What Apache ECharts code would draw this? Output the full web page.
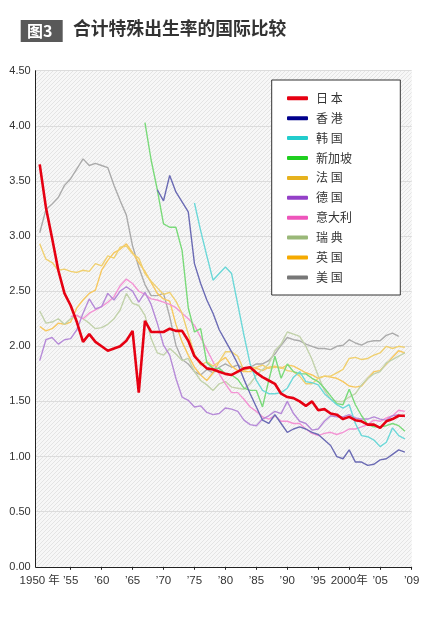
<!DOCTYPE html>
<html>
<head>
<meta charset="utf-8">
<script src="https://cdn.jsdelivr.net/npm/echarts@6/dist/echarts.min.js"></script>
<style>
html,body{margin:0;padding:0;background:#fff;}
#c{width:437px;height:620px;}
</style>
</head>
<body>
<div id="c"></div>
<script>
var years = [1950,1951,1952,1953,1954,1955,1956,1957,1958,1959,
             1960,1961,1962,1963,1964,1965,1966,1967,1968,1969,
             1970,1971,1972,1973,1974,1975,1976,1977,1978,1979,
             1980,1981,1982,1983,1984,1985,1986,1987,1988,1989,
             1990,1991,1992,1993,1994,1995,1996,1997,1998,1999,
             2000,2001,2002,2003,2004,2005,2006,2007,2008,2009];

var japan = [3.65,3.26,2.98,2.69,2.48,2.37,2.22,2.04,2.11,2.04,
             2.00,1.96,1.98,2.00,2.05,2.14,1.58,2.23,2.13,2.13,
             2.13,2.16,2.14,2.14,2.05,1.91,1.85,1.80,1.79,1.77,
             1.75,1.74,1.77,1.80,1.81,1.76,1.72,1.69,1.66,1.57,
             1.54,1.53,1.50,1.46,1.50,1.42,1.43,1.39,1.38,1.34,
             1.36,1.33,1.32,1.29,1.29,1.26,1.32,1.34,1.37,1.37];

var hongkong = [null,null,null,null,null,null,null,null,null,null,
             null,null,null,null,null,null,null,null,null,3.42,
             3.32,3.55,3.40,3.31,3.22,2.75,2.57,2.42,2.30,2.15,
             2.05,1.95,1.84,1.70,1.57,1.45,1.33,1.30,1.38,1.30,
             1.22,1.25,1.27,1.25,1.22,1.20,1.15,1.10,1.00,0.98,
             1.06,0.95,0.95,0.92,0.93,0.97,0.98,1.02,1.06,1.04];

var korea = [null,null,null,null,null,null,null,null,null,null,
             null,null,null,null,null,null,null,null,null,null,
             null,null,null,null,null,3.30,3.05,2.82,2.60,2.66,
             2.72,2.66,2.38,2.10,1.84,1.69,1.60,1.57,1.57,1.58,
             1.62,1.72,1.77,1.68,1.67,1.65,1.57,1.52,1.47,1.44,
             1.47,1.30,1.19,1.18,1.15,1.09,1.13,1.26,1.19,1.16];

var singapore = [null,null,null,null,null,null,null,null,null,null,
             null,null,null,null,null,null,null,4.03,3.69,3.42,
             3.11,3.08,3.08,2.87,2.35,2.13,2.16,1.85,1.80,1.80,
             1.75,1.74,1.70,1.62,1.60,1.60,1.45,1.69,1.91,1.71,
             1.84,1.77,1.75,1.75,1.71,1.68,1.62,1.55,1.48,1.47,
             1.61,1.47,1.37,1.29,1.27,1.27,1.28,1.30,1.28,1.23];

var france = [2.93,2.79,2.76,2.69,2.70,2.68,2.67,2.69,2.68,2.75,
             2.73,2.82,2.80,2.90,2.91,2.84,2.80,2.66,2.59,2.53,
             2.47,2.49,2.41,2.30,2.11,1.93,1.83,1.86,1.82,1.86,
             1.95,1.95,1.91,1.78,1.80,1.81,1.83,1.80,1.81,1.81,
             1.78,1.77,1.73,1.66,1.66,1.71,1.73,1.73,1.76,1.79,
             1.89,1.90,1.88,1.89,1.92,1.94,2.00,1.98,2.00,1.99];

var germany = [1.87,2.06,2.08,2.02,2.06,2.07,2.15,2.30,2.43,2.34,
             2.36,2.48,2.42,2.50,2.54,2.50,2.40,2.49,2.38,2.21,
             2.01,1.92,1.71,1.54,1.51,1.45,1.46,1.40,1.38,1.39,
             1.44,1.43,1.41,1.33,1.29,1.28,1.34,1.37,1.41,1.39,
             1.50,1.39,1.32,1.30,1.24,1.25,1.32,1.37,1.36,1.36,
             1.38,1.35,1.34,1.34,1.36,1.34,1.33,1.37,1.38,1.36];

var italy = [null,null,null,null,null,2.27,2.28,2.25,2.30,2.33,
             2.36,2.40,2.45,2.55,2.61,2.57,2.50,2.47,2.43,2.42,
             2.40,2.38,2.35,2.30,2.25,2.19,2.08,1.97,1.86,1.75,
             1.66,1.58,1.58,1.52,1.45,1.41,1.36,1.34,1.37,1.32,
             1.32,1.30,1.30,1.25,1.21,1.19,1.21,1.22,1.20,1.22,
             1.25,1.25,1.27,1.29,1.33,1.32,1.35,1.37,1.42,1.41];

var sweden = [2.32,2.21,2.22,2.25,2.20,2.25,2.28,2.25,2.21,2.16,
             2.17,2.20,2.25,2.33,2.48,2.39,2.37,2.28,2.07,1.94,
             1.92,1.98,1.93,1.87,1.89,1.77,1.69,1.65,1.60,1.66,
             1.68,1.63,1.62,1.61,1.66,1.74,1.79,1.84,1.96,2.02,
             2.13,2.11,2.09,2.00,1.88,1.73,1.60,1.52,1.50,1.50,
             1.54,1.57,1.65,1.71,1.75,1.77,1.85,1.88,1.91,1.94];

var uk = [2.18,2.14,2.16,2.21,2.20,2.22,2.35,2.42,2.48,2.51,
             2.69,2.78,2.85,2.88,2.93,2.85,2.76,2.68,2.58,2.48,
             2.43,2.41,2.20,2.04,1.92,1.81,1.74,1.69,1.76,1.86,
             1.90,1.82,1.78,1.77,1.77,1.80,1.78,1.81,1.82,1.80,
             1.83,1.82,1.79,1.76,1.74,1.71,1.73,1.72,1.71,1.68,
             1.64,1.63,1.64,1.71,1.77,1.78,1.84,1.90,1.96,1.94];

var usa = [3.03,3.24,3.29,3.35,3.46,3.52,3.61,3.70,3.64,3.66,
             3.64,3.62,3.46,3.32,3.19,2.91,2.72,2.56,2.46,2.46,
             2.48,2.27,2.01,1.88,1.84,1.77,1.74,1.79,1.76,1.81,
             1.84,1.81,1.83,1.80,1.81,1.84,1.84,1.87,1.93,2.01,
             2.08,2.06,2.05,2.02,2.00,1.98,1.98,1.97,2.00,2.01,
             2.06,2.03,2.01,2.04,2.05,2.05,2.10,2.12,2.09,null];

var seriesNames = ['日 本','香 港','韩 国','新加坡','法 国','德 国','意大利','瑞 典','英 国','美 国'];
var seriesValues = [japan,hongkong,korea,singapore,france,germany,italy,sweden,uk,usa];
var legendColors = ['#e60012','#00008c','#22cccc','#1fcf1f','#e6b21e','#9440c8','#ee55bb','#9ab878','#f5aa00','#777777'];
var lineColors   = ['#e60012','#6b6bb4','#6cd8d8','#7ada7a','#f0d070','#b68ad8','#f394d4','#c2d2ab','#f7c860','#ababab'];

var xTickValues = [1950,1955,1960,1965,1970,1975,1980,1985,1990,1995,2000,2005,2010.1];
var xTickLabels = ['1950 年','’55','’60','’65','’70','’75','’80','’85','’90','’95','2000年','’05','’09'];

function pairs(vals){
  var out = [];
  for (var i=0;i<years.length;i++){
    out.push([years[i], vals[i]]);
  }
  return out;
}

// hatch pattern for plot background
var pat = document.createElement('canvas');
pat.width = 4; pat.height = 4;
var pc = pat.getContext('2d');
pc.fillStyle = '#f7f7f7'; pc.fillRect(0,0,4,4);
pc.fillStyle = '#e4e4e4';
pc.fillRect(0,3,1,1); pc.fillRect(1,2,1,1); pc.fillRect(2,1,1,1); pc.fillRect(3,0,1,1);

var series = [];
for (var s=seriesNames.length-1; s>=0; s--){
  series.push({
    name: seriesNames[s],
    type: 'line',
    data: pairs(seriesValues[s]),
    showSymbol: false,
    symbol: 'none',
    connectNulls: false,
    z: s===0 ? 5 : 2,
    itemStyle: {color: legendColors[s]},
    lineStyle: {color: lineColors[s], width: s===0 ? 2.6 : 1.4},
    emphasis: {disabled: true},
    animation: false
  });
}

var chart = echarts.init(document.getElementById('c'), null, {renderer:'canvas'});
chart.setOption({
  animation: false,
  backgroundColor: '#ffffff',
  textStyle: {fontFamily: '"Noto Sans CJK SC","Noto Sans",sans-serif'},
  grid: {
    left: 35.7, right: 25.3, top: 70.7, bottom: 53.2,
    show: true, borderWidth: 0,
    backgroundColor: {image: pat, repeat: 'repeat'}
  },
  xAxis: {
    type: 'value',
    min: 1949.35, max: 2010.1,
    axisLine: {show: true, onZero: false, lineStyle: {color: '#222', width: 1}},
    splitLine: {show: false},
    axisTick: {show: true, length: 3, customValues: xTickValues.slice(1), lineStyle: {color: '#222'}},
    axisLabel: {
      customValues: xTickValues,
      formatter: function(v){
        for (var i=0;i<xTickValues.length;i++){ if (Math.abs(xTickValues[i]-v) < 0.01) return xTickLabels[i]; }
        return '';
      },
      color: '#333', fontSize: 11.5, margin: 8,
      fontFamily: '"Liberation Sans","Noto Sans CJK SC",sans-serif'
    }
  },
  yAxis: {
    type: 'value',
    min: 0, max: 4.5, interval: 0.5,
    axisLine: {show: true, lineStyle: {color: '#222', width: 1}},
    axisTick: {show: false},
    splitLine: {show: true, lineStyle: {color: '#dcdcdc', width: 1}},
    axisLabel: {
      formatter: function(v){ return v.toFixed(2); },
      color: '#333', fontSize: 11, margin: 5,
      fontFamily: '"Liberation Sans","Noto Sans",sans-serif'
    }
  },
  legend: {
    orient: 'vertical',
    left: 287, top: 92.3,
    padding: 0,
    itemGap: 7.9,
    itemWidth: 21, itemHeight: 4,
    icon: 'roundRect',
    z: 20,
    selectedMode: false,
    data: seriesNames,
    textStyle: {color: '#333', fontSize: 12, lineHeight: 12, padding: [0,0,0,3],
      fontFamily: '"Noto Sans CJK SC",sans-serif'}
  },
  graphic: [
    {type: 'rect', z: 10, shape: {x: 271.7, y: 80, width: 128.6, height: 215},
     style: {fill: '#ffffff', stroke: '#333333', lineWidth: 1}},
    {type: 'rect', z: 10, shape: {x: 20.7, y: 20, width: 42, height: 22},
     style: {fill: '#595959'}},
    {type: 'text', z: 11, left: 27, top: 22.5,
     style: {text: '图3', fill: '#ffffff', fontSize: 16, fontWeight: 'bold',
       fontFamily: '"Noto Sans CJK SC",sans-serif'}},
    {type: 'text', z: 11, left: 73, top: 19.5,
     style: {text: '合计特殊出生率的国际比较', fill: '#333333', fontSize: 17.8, fontWeight: 'bold',
       fontFamily: '"Noto Sans CJK SC",sans-serif'}}
  ],
  series: series
});
</script>
</body>
</html>
